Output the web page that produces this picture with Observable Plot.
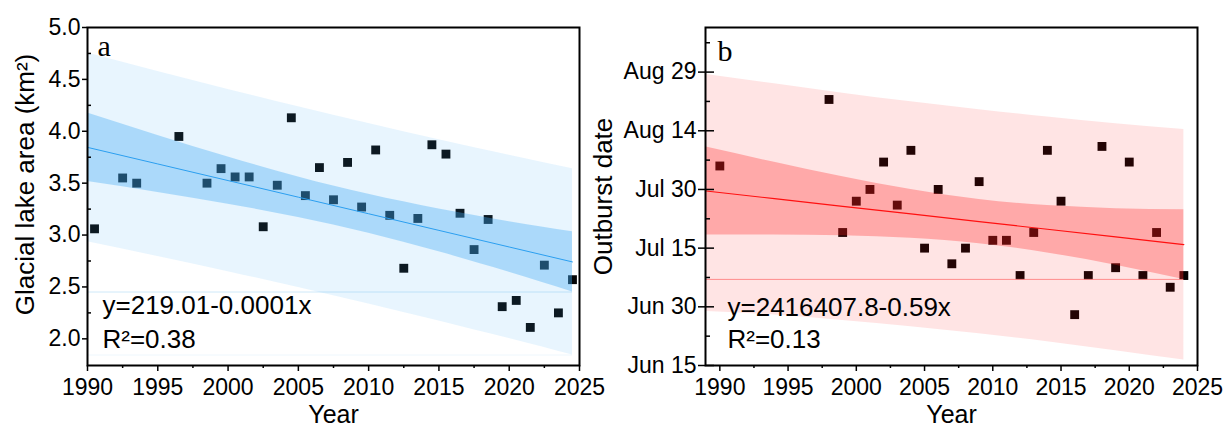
<!DOCTYPE html>
<html>
<head>
<meta charset="utf-8">
<script src="https://cdn.jsdelivr.net/npm/d3@7"></script>
<script src="https://cdn.jsdelivr.net/npm/@observablehq/plot@0.6"></script>
<style>
  html, body { margin: 0; padding: 0; background: #fff; }
  #wrap { position: relative; width: 1225px; height: 427px; overflow: hidden; }
  #pa { position: absolute; left: 0; top: 0; }
  #pb { position: absolute; left: 612px; top: 0; }
</style>
</head>
<body>
<div id="wrap"><div id="pa"></div><div id="pb"></div></div>
<script>
// ---------- Panel a: glacial lake area ----------
const lakeYears = [1990.5,1992.5,1993.5,1996.5,1998.5,1999.5,2000.5,2001.5,2002.5,2003.5,2004.5,2005.5,2006.5,2007.5,2008.5,2009.5,2010.5,2011.5,2012.5,2013.5,2014.5,2015.5,2016.5,2017.5,2018.5,2019.5,2020.5,2021.5,2022.5,2023.5,2024.5];
const lakeArea = [3.06,3.55,3.50,3.95,3.50,3.64,3.56,3.56,3.08,3.48,4.13,3.38,3.65,3.34,3.70,3.27,3.82,3.19,2.68,3.16,3.87,3.78,3.21,2.86,3.15,2.31,2.37,2.11,2.71,2.25,2.57];
// fit and bands
const bandYearsA = [1990,1995,2000,2005,2010,2015,2020,2024.5];
const fitA      = [3.845,3.685,3.525,3.365,3.205,3.045,2.885,2.741];
const confHighA = [4.175,3.959,3.752,3.560,3.392,3.251,3.129,3.031];
const confLowA  = [3.515,3.411,3.298,3.170,3.018,2.839,2.641,2.451];
const predHighA = [4.755,4.577,4.403,4.236,4.074,3.918,3.768,3.638];
const predLowA  = [2.935,2.793,2.647,2.494,2.336,2.172,2.002,1.844];
const yTicksA = [2.0,2.5,3.0,3.5,4.0,4.5,5.0];
const yMinorA = [2.25,2.75,3.25,3.75,4.25,4.75];
const eqA = "y=219.01-0.0001x";
const r2A = "R²=0.38";

// ---------- Panel b: outburst date (day of year) ----------
const burstYears = [1990,1998,1999,2000,2001,2002,2003,2004,2005,2006,2007,2008,2009,2010,2011,2012,2013,2014,2015,2016,2017,2018,2019,2020,2021,2022,2023,2024];
const burstDay = [217,234,200,208,211,218,207,221,196,211,192,196,213,198,198,189,200,221,208,179,189,222,191,218,189,200,186,189];
const bandYearsB = [1989,1994,1999,2004,2009,2014,2019,2024];
const fitB      = [210.6,208.65,206.69,204.74,202.78,200.83,198.87,196.92];
const confHighB = [221.85,217.93,214.23,210.97,208.44,206.88,206.10,205.83];
const confLowB  = [199.35,199.37,199.15,198.51,197.12,194.78,191.64,188.01];
const predHighB = [240.4,238.0,235.6,233.4,231.4,229.5,227.8,226.3];
const predLowB  = [179.8,178.9,177.5,175.9,174.1,172.1,169.8,167.4];
const yTicksB = [166,181,196,211,226,241];
const yTickLabelsB = ["Jun 15","Jun 30","Jul 15","Jul 30","Aug 14","Aug 29"];
const yMinorB = [173.5,188.5,203.5,218.5,233.5,248.5];
const eqB = "y=2416407.8-0.59x";
const r2B = "R²=0.13";

const xTicks = [1990,1995,2000,2005,2010,2015,2020,2025];
const xMinor = [1992.5,1997.5,2002.5,2007.5,2012.5,2017.5,2022.5];

const FONT = "'Liberation Sans', Arial, sans-serif";
const SERIF = "'Liberation Serif', 'Times New Roman', serif";

function table(years, cols) {
  return years.map((year, i) => {
    const o = {year};
    for (const k in cols) o[k] = cols[k][i];
    return o;
  });
}

const bandA = table(bandYearsA, {fit: fitA, ch: confHighA, cl: confLowA, ph: predHighA, pl: predLowA});
const bandB = table(bandYearsB, {fit: fitB, ch: confHighB, cl: confLowB, ph: predHighB, pl: predLowB});
const ptsA = table(lakeYears, {v: lakeArea});
const ptsB = table(burstYears, {v: burstDay});

const innerW = 492;

function commonX(fontSize) {
  return [
    Plot.axisX({ticks: xTicks, tickSize: 6, tickPadding: 7, tickFormat: d => String(d), fontSize, label: null, strokeWidth: 1.5}),
    Plot.axisX({ticks: xMinor, tickSize: 3, tickFormat: () => "", label: null, strokeWidth: 1.5})
  ];
}

const plotA = Plot.plot({
  width: 612, height: 427,
  marginLeft: 87, marginRight: 33, marginTop: 27, marginBottom: 62,
  x: {domain: [1990, 2025]},
  y: {domain: [1.743, 5.0]},
  style: {fontFamily: FONT, color: "black", background: "transparent", overflow: "visible"},
  marks: [
    Plot.ruleY([confLowA[confLowA.length - 1]], {x1: bandYearsA[0], x2: bandYearsA[bandYearsA.length - 1], stroke: "#cfe9f9", strokeWidth: 1}),
    Plot.ruleY([predLowA[predLowA.length - 1]], {x1: bandYearsA[0], x2: bandYearsA[bandYearsA.length - 1], stroke: "#eef7fd", strokeWidth: 1}),
    Plot.dot(ptsA, {x: "year", y: "v", symbol: "square", r: 5, fill: "#050505", stroke: "none"}),
    Plot.areaY(bandA, {x: "year", y1: "pl", y2: "ph", fill: "#3fa9f5", fillOpacity: 0.12, curve: "natural"}),
    Plot.areaY(bandA, {x: "year", y1: "cl", y2: "ch", fill: "#3fa9f5", fillOpacity: 0.36, curve: "natural"}),
    Plot.line(bandA, {x: "year", y: "fit", stroke: "#2b9ff0", strokeWidth: 1}),
    Plot.frame({stroke: "black", strokeWidth: 2}),
    ...commonX(23),
    Plot.axisY({ticks: yTicksA, tickSize: 5, tickPadding: 2, tickFormat: d => d.toFixed(1), fontSize: 23, label: null, strokeWidth: 1.5}),
    Plot.tickY(yMinorA, {y: d => d, insetRight: innerW - 4, stroke: "black", strokeWidth: 1.5}),
    Plot.text(["a"], {frameAnchor: "top-left", dx: 10, dy: 28, lineAnchor: "bottom", textAnchor: "start", fontSize: 30, fontFamily: SERIF}),
    Plot.text([eqA], {frameAnchor: "top-left", dx: 15, dy: 286, lineAnchor: "bottom", textAnchor: "start", fontSize: 26}),
    Plot.text([r2A], {frameAnchor: "top-left", dx: 15, dy: 320, lineAnchor: "bottom", textAnchor: "start", fontSize: 26}),
    Plot.text(["Year"], {frameAnchor: "bottom", dy: 57, fontSize: 25}),
    Plot.text(["Glacial lake area (km²)"], {frameAnchor: "left", dx: -62, dy: -12, rotate: -90, textAnchor: "middle", fontSize: 26})
  ]
});

const plotB = Plot.plot({
  width: 613, height: 427,
  marginLeft: 93, marginRight: 28, marginTop: 27, marginBottom: 62,
  x: {domain: [1988.95, 2025]},
  y: {domain: [166, 252.4]},
  style: {fontFamily: FONT, color: "black", background: "transparent", overflow: "visible"},
  marks: [
    Plot.dot(ptsB, {x: "year", y: "v", symbol: "square", r: 5, fill: "#050000", stroke: "none"}),
    Plot.areaY(bandB, {x: "year", y1: "pl", y2: "ph", fill: "#ff2020", fillOpacity: 0.12, curve: "natural"}),
    Plot.areaY(bandB, {x: "year", y1: "cl", y2: "ch", fill: "#ff2020", fillOpacity: 0.3, curve: "natural"}),
    Plot.ruleY([confLowB[confLowB.length - 1]], {x1: bandYearsB[0], x2: bandYearsB[bandYearsB.length - 1], stroke: "#ff8c8c", strokeWidth: 1}),
    Plot.line(bandB, {x: "year", y: "fit", stroke: "#ff1010", strokeWidth: 1.2}),
    Plot.frame({stroke: "black", strokeWidth: 2}),
    ...commonX(23),
    Plot.axisY({ticks: yTicksB, tickSize: 7, tickPadding: 2, tickFormat: d => yTickLabelsB[yTicksB.indexOf(d)], fontSize: 23, label: null, strokeWidth: 1.5}),
    Plot.tickY(yTicksB, {y: d => d, insetRight: innerW - 9, stroke: "black", strokeWidth: 1.5}),
    Plot.tickY(yMinorB, {y: d => d, insetRight: innerW - 5, stroke: "black", strokeWidth: 1.5}),
    Plot.text(["b"], {frameAnchor: "top-left", dx: 12, dy: 33, lineAnchor: "bottom", textAnchor: "start", fontSize: 30, fontFamily: SERIF}),
    Plot.text([eqB], {frameAnchor: "top-left", dx: 22, dy: 288, lineAnchor: "bottom", textAnchor: "start", fontSize: 26}),
    Plot.text([r2B], {frameAnchor: "top-left", dx: 22, dy: 320, lineAnchor: "bottom", textAnchor: "start", fontSize: 26}),
    Plot.text(["Year"], {frameAnchor: "bottom", dy: 57, fontSize: 25}),
    Plot.text(["Outburst date"], {frameAnchor: "left", dx: -102, rotate: -90, textAnchor: "middle", fontSize: 26})
  ]
});

document.getElementById("pa").appendChild(plotA);
document.getElementById("pb").appendChild(plotB);
</script>
</body>
</html>
